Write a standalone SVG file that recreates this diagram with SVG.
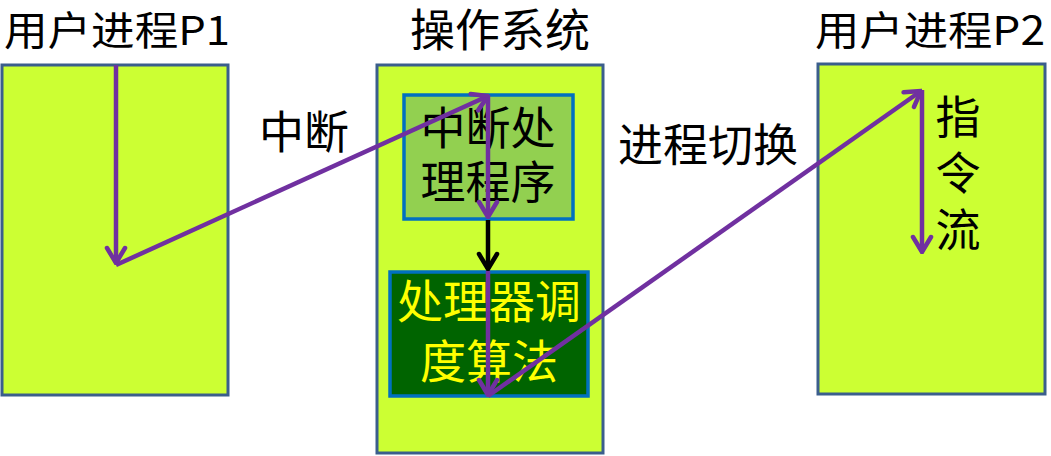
<svg xmlns="http://www.w3.org/2000/svg" width="1051" height="456" viewBox="0 0 1051 456">
<style>
text{font-family:"Noto Sans CJK SC","Noto Sans",sans-serif;fill:#000;}
.big{font-size:40px;}
.lbl{font-size:45px;}
.proc{fill:#CCFF33;stroke:#3B5E8C;stroke-width:3;}
.inner{stroke:#0070C0;stroke-width:3.5;}
.pl{stroke:#7030A0;stroke-width:4.5;fill:none;}
.bl{stroke:#000;stroke-width:4.5;fill:none;}
</style>
<defs>
<marker id="ap" viewBox="-18 -12 20 24" markerWidth="20" markerHeight="24" refX="0" refY="0" orient="auto" markerUnits="userSpaceOnUse">
<path d="M-15,-9 L0,0 L-15,9" fill="none" stroke="#7030A0" stroke-width="4.5" stroke-linecap="round" stroke-linejoin="miter"/>
</marker>
<marker id="ab" viewBox="-18 -12 20 24" markerWidth="20" markerHeight="24" refX="0" refY="0" orient="auto" markerUnits="userSpaceOnUse">
<path d="M-15,-9 L0,0 L-15,9" fill="none" stroke="#000" stroke-width="4.5" stroke-linecap="round"/>
</marker>
</defs>
<g id="p1">
<rect class="proc" x="2" y="65" width="226" height="330"/>
<text class="big" x="4" y="45" textLength="226" lengthAdjust="spacingAndGlyphs">用户进程P1</text>
</g>
<g id="os">
<rect class="proc" x="377" y="65" width="226" height="388"/>
<text class="lbl" x="500" y="47" text-anchor="middle" font-size="44">操作系统</text>
</g>
<g id="isr">
<rect class="inner" fill="#92D050" x="404" y="95" width="169" height="124"/>
<text class="lbl" x="488" y="145" text-anchor="middle" font-size="43">中断处</text>
<text class="lbl" x="488" y="199" text-anchor="middle" font-size="43">理程序</text>
</g>
<g id="sched">
<rect class="inner" fill="#006400" x="390" y="272" width="198" height="124"/>
<text x="489" y="318" text-anchor="middle" font-size="46" style="fill:#FFFF00">处理器调</text>
<text x="489" y="378" text-anchor="middle" font-size="46" style="fill:#FFFF00">度算法</text>
</g>
<g id="p2">
<rect class="proc" x="818" y="64" width="227" height="330"/>
<text class="big" x="815" y="45" textLength="230" lengthAdjust="spacingAndGlyphs">用户进程P2</text>
<text class="lbl" x="958" y="134" text-anchor="middle" font-size="43">指</text>
<text class="lbl" x="958" y="190" text-anchor="middle" font-size="43">令</text>
<text class="lbl" x="958" y="247" text-anchor="middle" font-size="43">流</text>
</g>
<g id="labels">
<text class="lbl" x="304" y="149" text-anchor="middle">中断</text>
<text class="lbl" x="708" y="162" text-anchor="middle">进程切换</text>
</g>
<g id="connectors">
<line class="pl" x1="116" y1="65" x2="116" y2="263" marker-end="url(#ap)"/>
<line class="pl" x1="116" y1="265" x2="488" y2="96" marker-end="url(#ap)"/>
<line class="pl" x1="488" y1="95" x2="488" y2="217" marker-end="url(#ap)"/>
<line class="bl" x1="488" y1="220" x2="488" y2="269" marker-end="url(#ab)"/>
<line class="pl" x1="488" y1="271" x2="488" y2="395" marker-end="url(#ap)"/>
<line class="pl" x1="488" y1="396" x2="921" y2="91" marker-end="url(#ap)"/>
<line class="pl" x1="922" y1="90" x2="922" y2="252" marker-end="url(#ap)"/>
</g>
</svg>
